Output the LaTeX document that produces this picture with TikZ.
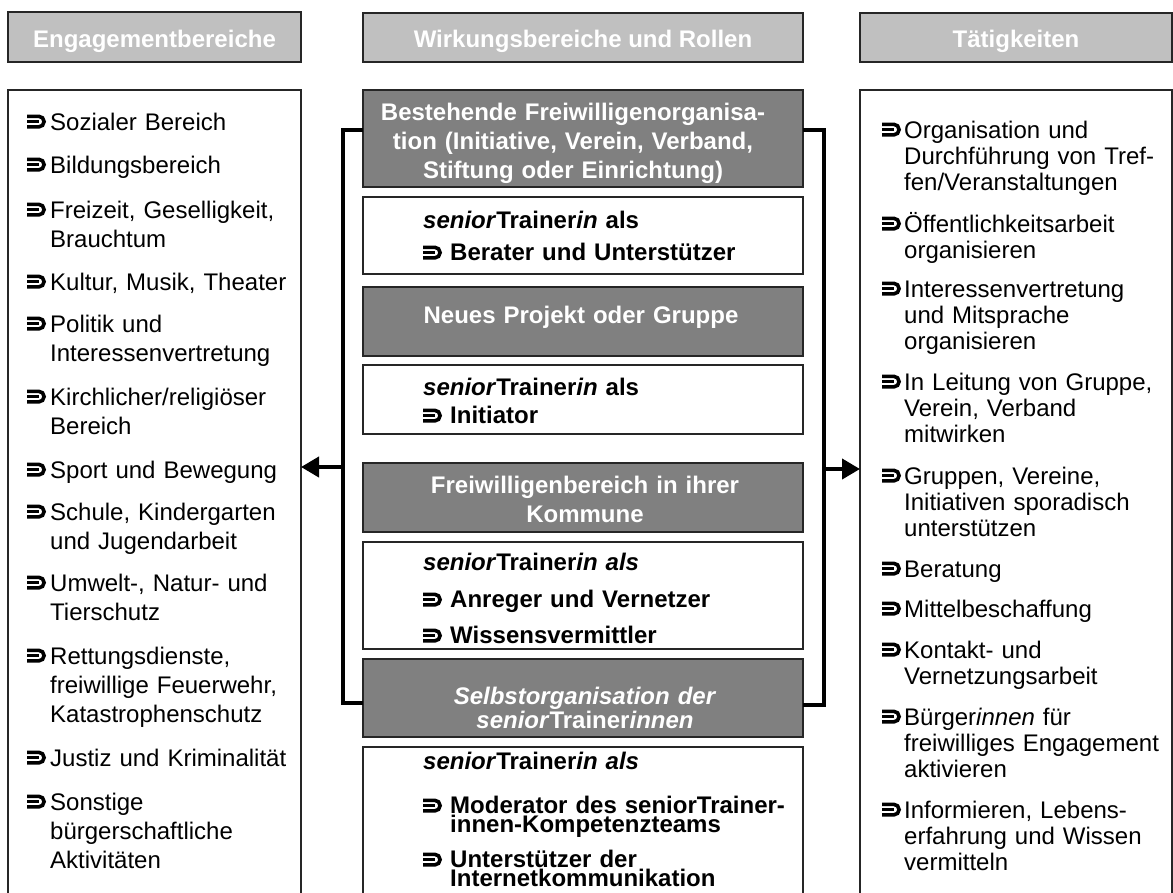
\documentclass[tikz,border=0pt]{standalone}
\usepackage{fontspec}
\setmainfont{Liberation Sans}
\usetikzlibrary{arrows.meta}
\definecolor{hdrgray}{HTML}{C0C0C0}
\definecolor{boxgray}{HTML}{808080}
\tikzset{hook/.pic={%
  \draw[line width=3.6pt,line cap=butt] (0,-13.7) -- (11.8,-13.7) arc[start angle=-90,end angle=90,radius=5.3] -- (0,-3.1);
  \draw[line width=3.4pt,line cap=butt] (0,-8.4) -- (11.8,-8.4);}}
\newcommand\LItem[4]{\pic at (#1,#2) {hook}; \node[ltxt] (#3) at ({#1+23},#2) {#4};}
\newcommand\RItem[4]{\pic at (#1,#2) {hook}; \node[rtxt] (#3) at ({#1+22},#2) {#4};}
\newcommand\MItemX[5]{\pic at (423,{#1+1}) {hook}; \node[mtxt,font=\bfseries\fontsize{24}{#2}\selectfont] (#3) at (#4,#1) {#5};}
\newcommand\sT{\textit{senior}Trainer}
\begin{document}
\begin{tikzpicture}[x=1pt,y=-1pt,
 box/.style={draw=black!85,line width=1.3pt,outer sep=0pt,inner sep=0pt},
 hdr/.style={box,fill=hdrgray,text=white,font=\bfseries\fontsize{24}{29}\selectfont,text height=20pt,text depth=0pt},
 wbox/.style={box,fill=white},
 dbox/.style={box,fill=boxgray},
 dtxt/.style={anchor=base,text width=430pt,align=center,inner sep=0pt,text=white,font=\bfseries\fontsize{24}{29}\selectfont},
 ltxt/.style={anchor=base west,text width=262pt,align=left,inner sep=0pt,font=\fontsize{24}{29}\selectfont},
 rtxt/.style={anchor=base west,text width=268pt,align=left,inner sep=0pt,font=\fontsize{24}{26}\selectfont},
 mtxt/.style={anchor=base west,text width=345pt,align=left,inner sep=0pt,font=\bfseries\fontsize{24}{29}\selectfont},
 brk/.style={line width=3.6pt,line cap=butt,line join=miter},
 arr/.style={line width=4pt,-{Triangle[length=18pt,width=20pt]}}]
\useasboundingbox (0,0) rectangle (1173,892);
\fill[white] (0,0) rectangle (1173,892);

% headers
\node[hdr,minimum width=293pt,minimum height=50pt] (hl) at (154.5,37) {Engagementbereiche};
\node[hdr,minimum width=440pt,minimum height=49pt] (hm) at (583,37.5) {Wirkungsbereiche und Rollen};
\node[hdr,minimum width=312pt,minimum height=49pt] (hr) at (1016,37.5) {Tätigkeiten};

% side boxes
\node[wbox,minimum width=293pt,minimum height=810pt] (lbox) at (154.5,495) {};
\node[wbox,minimum width=312pt,minimum height=810pt] (rbox) at (1016,495) {};

% middle boxes
\node[dbox,minimum width=440pt,minimum height=97pt] (d1) at (583,138.5) {};
\node[wbox,minimum width=440pt,minimum height=77pt] (w1) at (583,235.5) {};
\node[dbox,minimum width=440pt,minimum height=69pt] (d2) at (583,321.5) {};
\node[wbox,minimum width=440pt,minimum height=69pt] (w2) at (583,399.5) {};
\node[dbox,minimum width=440pt,minimum height=69pt] (d3) at (583,497.5) {};
\node[wbox,minimum width=440pt,minimum height=107pt] (w3) at (583,595.5) {};
\node[dbox,minimum width=440pt,minimum height=78pt] (d4) at (583,698) {};
\node[wbox,minimum width=440pt,minimum height=153pt] (w4) at (583,823.5) {};

% dark box texts
\node[dtxt] (t1) at (573,120) {Bestehende Freiwilligenorganisa-\\tion (Initiative, Verein, Verband,\\Stiftung oder Einrichtung)};
\node[dtxt] (t2) at (581,323) {Neues Projekt oder Gruppe};
\node[dtxt] (t3) at (585,493) {Freiwilligenbereich in ihrer\\Kommune};
\node[dtxt,font=\bfseries\fontsize{24}{24}\selectfont] (t4) at (585,704) {\textit{Selbstorganisation der}\\\sT\textit{innen}};

% white box texts
\node[mtxt] (s1) at (423,228) {\sT\textit{in} als};
\MItemX{260}{29}{m1}{450}{Berater und Unterstützer}
\node[mtxt] (s2) at (423,395) {\sT\textit{in} als};
\MItemX{423}{29}{m2}{450}{Initiator}
\node[mtxt] (s3) at (423,570) {\sT\textit{in als}};
\MItemX{607}{29}{m3}{450}{Anreger und Vernetzer}
\MItemX{643}{29}{m4}{450}{Wissensvermittler}
\node[mtxt] (s4) at (423,769) {\sT\textit{in als}};
\MItemX{813}{19}{m5}{450}{Moderator des seniorTrainer-\\innen-Kompetenzteams}
\MItemX{867}{19}{m6}{450}{Unterstützer der\\Internetkommunikation}

% left list
\LItem{27}{130}{l1}{Sozialer Bereich}
\LItem{27}{173}{l2}{Bildungsbereich}
\LItem{27}{218}{l3}{Freizeit, Geselligkeit,\\Brauchtum}
\LItem{27}{290}{l4}{Kultur, Musik, Theater}
\LItem{27}{332}{l5}{Politik und\\Interessenvertretung}
\LItem{27}{405}{l6}{Kirchlicher/religiöser\\Bereich}
\LItem{27}{478}{l7}{Sport und Bewegung}
\LItem{27}{520}{l8}{Schule, Kindergarten\\und Jugendarbeit}
\LItem{27}{591}{l9}{Umwelt-, Natur- und\\Tierschutz}
\LItem{27}{664}{l10}{Rettungsdienste,\\freiwillige Feuerwehr,\\Katastrophenschutz}
\LItem{27}{766}{l11}{Justiz und Kriminalität}
\LItem{27}{810}{l12}{Sonstige\\bürgerschaftliche\\Aktivitäten}

% right list
\RItem{882}{138}{r1}{Organisation und\\Durchführung von Tref-\\fen/Veranstaltungen}
\RItem{882}{232}{r2}{Öffentlichkeitsarbeit\\organisieren}
\RItem{882}{297}{r3}{Interessenvertretung\\und Mitsprache\\organisieren}
\RItem{882}{390}{r4}{In Leitung von Gruppe,\\Verein, Verband\\mitwirken}
\RItem{882}{484}{r5}{Gruppen, Vereine,\\Initiativen sporadisch\\unterstützen}
\RItem{882}{577}{r6}{Beratung}
\RItem{882}{617}{r7}{Mittelbeschaffung}
\RItem{882}{658}{r8}{Kontakt- und\\Vernetzungsarbeit}
\RItem{882}{725}{r9}{Bürger\textit{innen} für\\freiwilliges Engagement\\aktivieren}
\RItem{882}{818}{r10}{Informieren, Lebens-\\erfahrung und Wissen\\vermitteln}

% brackets and arrows
\coordinate (lt) at (343,130);
\coordinate (lb) at (343,703);
\coordinate (rt) at (824,130);
\coordinate (rb) at (824,705);
\coordinate (la) at (343,467);
\coordinate (ra) at (824,469);
\draw[brk] (d1.west |- lt) -- (lt) -- (lb) -- (d4.west |- lb);
\draw[brk] (d1.east |- rt) -- (rt) -- (rb) -- (d4.east |- rb);
\draw[arr] (la) -- (lbox.east |- la);
\draw[arr] (ra) -- (rbox.west |- ra);
\end{tikzpicture}
\end{document}
